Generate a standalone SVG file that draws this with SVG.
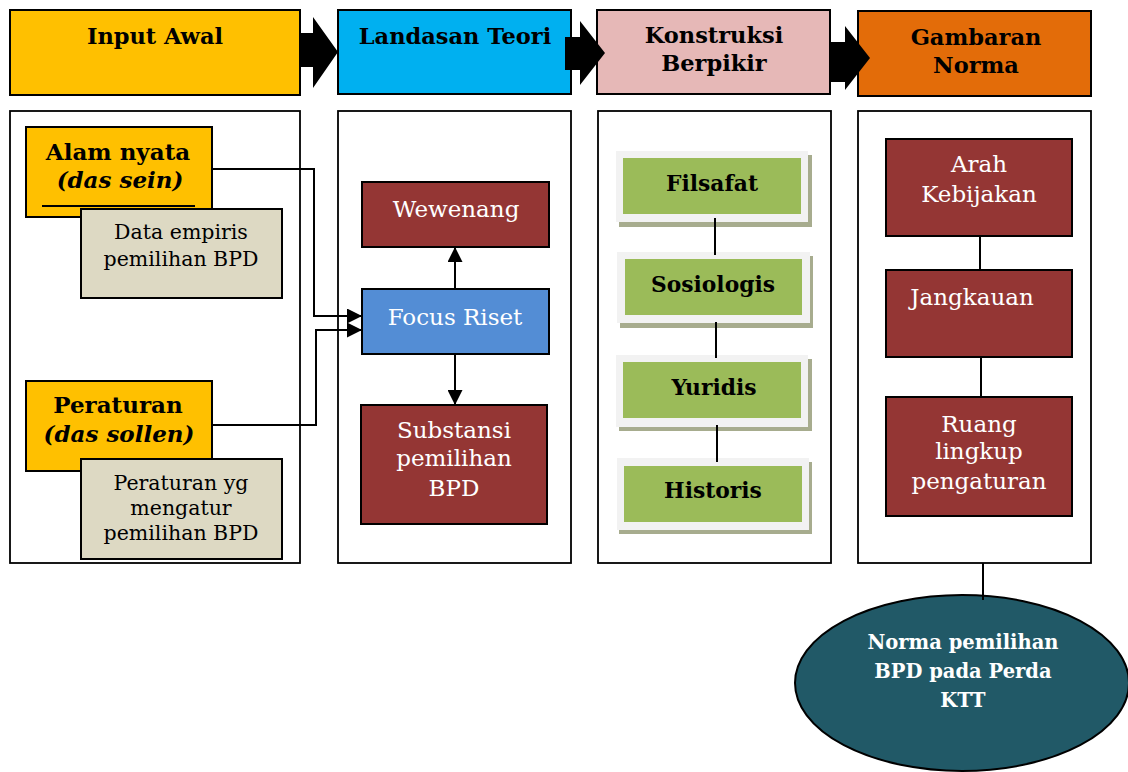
<svg xmlns="http://www.w3.org/2000/svg" width="1128" height="772" viewBox="0 0 1128 772">
<defs>
<style>
.hdr{stroke:#000;stroke-width:2}
.panel{fill:#fff;stroke:#000;stroke-width:1.8}
.t{font-family:"DejaVu Serif","Liberation Serif",serif;text-anchor:middle}
.h{font-weight:bold;font-size:22.5px;fill:#000}
.b{font-weight:bold;font-size:21.8px;fill:#000}
.g{font-weight:bold;font-size:23px;fill:#000}
.r{font-size:20.5px;fill:#000}
.rw{font-size:23px;fill:#fff}
.red{fill:#943634;stroke:#000;stroke-width:2}
.gold{fill:#FFC000;stroke:#000;stroke-width:2}
.tan{fill:#DDD9C3;stroke:#000;stroke-width:2}
.gshadow{fill:#A7AC8E}
.gouter{fill:#F2F2F2}
.ginner{fill:#9BBB59}
.con{fill:none;stroke:#000;stroke-width:2}
.blk{fill:#000}
</style>
<marker id="ah" viewBox="0 0 10 10" refX="10" refY="5" markerUnits="userSpaceOnUse" markerWidth="15" markerHeight="15" orient="auto">
<path d="M0,0 L10,5 L0,10 z" fill="#000"/>
</marker>
</defs>
<rect width="1128" height="772" fill="#fff"/>

<g id="header-input">
<rect class="hdr" x="10" y="10" width="290" height="85" fill="#FFC000"/>
<text class="t h" x="155" y="44">Input Awal</text>
</g>
<g id="header-landasan">
<rect class="hdr" x="338" y="10" width="233" height="84" fill="#00B0F0"/>
<text class="t h" x="455" y="44">Landasan Teori</text>
</g>
<g id="header-konstruksi">
<rect class="hdr" x="597" y="10" width="233" height="84" fill="#E6B8B7"/>
<text class="t h" x="714" y="43">Konstruksi</text>
<text class="t h" x="714" y="71">Berpikir</text>
</g>
<g id="header-gambaran">
<rect class="hdr" x="858" y="11" width="233" height="85" fill="#E36C09"/>
<text class="t h" x="976" y="45">Gambaran</text>
<text class="t h" x="976" y="73">Norma</text>
</g>

<g id="block-arrows">
<polygon class="blk" points="300,33 313,33 313,17 338,52 313,88 313,67 300,67"/>
<polygon class="blk" points="565,37 580,37 580,21 605,53 580,85 580,70 565,70"/>
<polygon class="blk" points="831,42 845,42 845,26 870,58 845,90 845,82 831,82"/>
</g>

<g id="panel-1">
<rect class="panel" x="10" y="111" width="290" height="452"/>
</g>
<g id="panel-2">
<rect class="panel" x="338" y="111" width="233" height="452"/>
</g>
<g id="panel-3">
<rect class="panel" x="598" y="111" width="233" height="452"/>
</g>
<g id="panel-4">
<rect class="panel" x="858" y="111" width="233" height="452"/>
</g>

<g id="alam-nyata">
<rect class="gold" x="26" y="127" width="186" height="90"/>
<text class="t g" x="118" y="160">Alam nyata</text>
<text class="t g" x="120" y="188" font-style="italic">(das sein)</text>
<line x1="42" y1="206" x2="195" y2="206" stroke="#000" stroke-width="2"/>
</g>
<g id="data-empiris">
<rect class="tan" x="81" y="209" width="201" height="89"/>
<text class="t r" x="181" y="239">Data empiris</text>
<text class="t r" x="181" y="266">pemilihan BPD</text>
</g>
<g id="peraturan">
<rect class="gold" x="26" y="381" width="186" height="90"/>
<text class="t g" x="118" y="413">Peraturan</text>
<text class="t g" x="119" y="442" font-style="italic">(das sollen)</text>
</g>
<g id="peraturan-yg">
<rect class="tan" x="81" y="459" width="201" height="100"/>
<text class="t r" x="181" y="490">Peraturan yg</text>
<text class="t r" x="181" y="515">mengatur</text>
<text class="t r" x="181" y="540">pemilihan BPD</text>
</g>

<g id="wewenang">
<rect class="red" x="362" y="182" width="187" height="65"/>
<text class="t rw" x="456" y="217">Wewenang</text>
</g>
<g id="focus-riset">
<rect x="362" y="289" width="187" height="65" fill="#538DD5" stroke="#000" stroke-width="2"/>
<text class="t rw" x="455" y="325">Focus Riset</text>
</g>
<g id="substansi">
<rect class="red" x="361" y="405" width="186" height="119"/>
<text class="t rw" x="454" y="438">Substansi</text>
<text class="t rw" x="454" y="466">pemilihan</text>
<text class="t rw" x="454" y="496">BPD</text>
</g>

<g id="filsafat">
<rect class="gshadow" x="619" y="155" width="193" height="72"/>
<rect class="gouter" x="616" y="151" width="192" height="71"/>
<rect class="ginner" x="623" y="158" width="178" height="56"/>
<text class="t b" x="712" y="191">Filsafat</text>
</g>
<g id="sosiologis">
<rect class="gshadow" x="620" y="256" width="193" height="72"/>
<rect class="gouter" x="617" y="252" width="193" height="71"/>
<rect class="ginner" x="625" y="259" width="177" height="56"/>
<text class="t b" x="713" y="292">Sosiologis</text>
</g>
<g id="yuridis">
<rect class="gshadow" x="619" y="359" width="193" height="72"/>
<rect class="gouter" x="616" y="355" width="192" height="72"/>
<rect class="ginner" x="623" y="362" width="178" height="56"/>
<text class="t b" x="714" y="395">Yuridis</text>
</g>
<g id="historis">
<rect class="gshadow" x="619" y="462" width="193" height="72"/>
<rect class="gouter" x="617" y="458" width="192" height="72"/>
<rect class="ginner" x="624" y="466" width="178" height="56"/>
<text class="t b" x="713" y="498">Historis</text>
</g>

<g id="arah-kebijakan">
<rect class="red" x="886" y="139" width="186" height="97"/>
<text class="t rw" x="979" y="172">Arah</text>
<text class="t rw" x="979" y="202">Kebijakan</text>
</g>
<g id="jangkauan">
<rect class="red" x="886" y="270" width="186" height="87"/>
<text class="t rw" x="972" y="305">Jangkauan</text>
</g>
<g id="ruang-lingkup">
<rect class="red" x="886" y="397" width="186" height="119"/>
<text class="t rw" x="979" y="432">Ruang</text>
<text class="t rw" x="979" y="459">lingkup</text>
<text class="t rw" x="979" y="489">pengaturan</text>
</g>

<g id="norma">
<ellipse cx="962" cy="683" rx="167" ry="88" fill="#215967" stroke="#000" stroke-width="2"/>
<text class="t" x="963" y="649" fill="#fff" font-weight="bold" font-size="19.5">Norma pemilihan</text>
<text class="t" x="963" y="678" fill="#fff" font-weight="bold" font-size="19.5">BPD pada Perda</text>
<text class="t" x="963" y="707" fill="#fff" font-weight="bold" font-size="19.5">KTT</text>
</g>

<g id="connectors">
<polyline class="con" points="212,169 314,169 314,316 362,316" marker-end="url(#ah)"/>
<polyline class="con" points="212,425 316,425 316,330 362,330" marker-end="url(#ah)"/>
<line class="con" x1="455" y1="289" x2="455" y2="247" marker-end="url(#ah)"/>
<line class="con" x1="455" y1="354" x2="455" y2="405" marker-end="url(#ah)"/>
<line class="con" x1="715" y1="218" x2="715" y2="255"/>
<line class="con" x1="716" y1="322" x2="716" y2="358"/>
<line class="con" x1="717" y1="425" x2="717" y2="462"/>
<line class="con" x1="980" y1="236" x2="980" y2="270"/>
<line class="con" x1="981" y1="357" x2="981" y2="397"/>
<line class="con" x1="983" y1="563" x2="983" y2="600"/>
</g>
</svg>
